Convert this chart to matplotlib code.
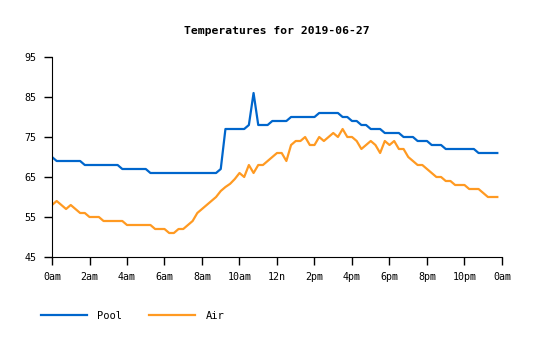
import numpy as np
import matplotlib.pyplot as plt

# 15-minute samples, 0:00 to 23:45
pool = [70, 69, 69, 69, 69, 69, 69, 68, 68, 68, 68, 68, 68, 68, 68,
        67, 67, 67, 67, 67, 67,
        66, 66, 66, 66, 66, 66, 66, 66, 66, 66, 66, 66, 66, 66, 66,
        67, 77, 77, 77, 77, 77, 78, 86, 78, 78, 78,
        79, 79, 79, 79, 80, 80, 80, 80, 80, 80,
        81, 81, 81, 81, 81, 80, 80, 79, 79, 78, 78, 77, 77, 77,
        76, 76, 76, 76, 75, 75, 75, 74, 74, 74, 73, 73, 73,
        72, 72, 72, 72, 72, 72, 72, 71, 71, 71, 71, 71]

air = [58, 59, 58, 57, 58, 57, 56, 56, 55, 55, 55, 54, 54, 54, 54, 54,
       53, 53, 53, 53, 53, 53, 52, 52, 52, 51, 51, 52, 52, 53, 54, 56,
       57, 58, 59, 60, 61.5, 62.5, 63.3, 64.5, 66, 65, 68, 66, 68, 68,
       69, 70, 71, 71, 69, 73, 74, 74, 75, 73, 73, 75, 74, 75, 76, 75,
       77, 75, 75, 74, 72, 73, 74, 73, 71, 74, 73, 74, 72, 72, 70, 69,
       68, 68, 67, 66, 65, 65, 64, 64, 63, 63, 63, 62, 62, 62, 61, 60,
       60, 60]

hours = np.arange(len(pool)) / 4.0

tick_hours = list(range(0, 25, 2))
tick_labels = ["0am", "2am", "4am", "6am", "8am", "10am", "12n",
               "2pm", "4pm", "6pm", "8pm", "10pm", "0am"]
y_ticks = [45, 55, 65, 75, 85, 95]

plt.rcParams['font.family'] = 'DejaVu Sans Mono'

fig = plt.figure(figsize=(5.35, 3.4), dpi=100)
ax = fig.add_axes([52/535, 83/340, 450/535, 200/340])

ax.plot(hours, pool, color='#0066cc', lw=1.6, label="Pool")
ax.plot(hours, air, color='#ff9a22', lw=1.6, label="Air")

ax.set_xlim(0, 24)
ax.set_ylim(45, 95)
ax.set_xticks(tick_hours)
ax.set_xticklabels(tick_labels)
ax.set_yticks(y_ticks)
ax.tick_params(labelsize=7.2, length=6, width=1, pad=5)
ax.spines['top'].set_visible(False)
ax.spines['right'].set_visible(False)

fig.suptitle("Temperatures for 2019-06-27", fontsize=8.2, fontweight='bold',
             x=277/535, y=1 - 31/340, va='center')

ax.legend(loc='center left', bbox_to_anchor=(41/535, 1 - 316/340),
          bbox_transform=fig.transFigure, ncol=2, frameon=False,
          fontsize=7.5, handlelength=4.4, handletextpad=1.0,
          columnspacing=2.6, borderaxespad=0, borderpad=0)

fig.savefig("out.png", dpi=100)
